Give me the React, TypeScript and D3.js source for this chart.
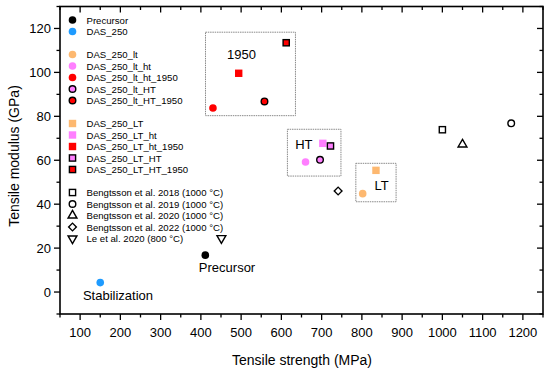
import React from "react";
import * as d3 from "d3";

// ---- data ----
const seriesNames = [
  "Precursor",
  "DAS_250",
  "DAS_250_lt",
  "DAS_250_lt_ht",
  "DAS_250_lt_ht_1950",
  "DAS_250_lt_HT",
  "DAS_250_lt_HT_1950",
  "DAS_250_LT",
  "DAS_250_LT_ht",
  "DAS_250_LT_ht_1950",
  "DAS_250_LT_HT",
  "DAS_250_LT_HT_1950",
  "Bengtsson et al. 2018 (1000 °C)",
  "Bengtsson et al. 2019 (1000 °C)",
  "Bengtsson et al. 2020 (1000 °C)",
  "Bengtsson et al. 2022 (1000 °C)",
  "Le et al. 2020 (800 °C)",
];
const strengthValues = [411, 150, 802, 660, 430, 696, 558, 835, 703, 494, 722, 612, 1000, 1171, 1050, 741, 451];
const modulusValues = [16.8, 4.3, 44.8, 59.2, 83.8, 60.2, 86.8, 55.4, 67.7, 99.6, 66.5, 113.5, 73.9, 76.8, 67.2, 46.0, 24.5];

const xTicks = [100, 200, 300, 400, 500, 600, 700, 800, 900, 1000, 1100, 1200];
const yTicks = [0, 20, 40, 60, 80, 100, 120];

// annotation boxes (data coordinates) and labels
const boxLabels = ["1950", "HT", "LT"];
const boxX0 = [411.5, 615, 785];
const boxX1 = [635, 748, 885];
const boxY0 = [80.3, 52.8, 41.1];
const boxY1 = [118.3, 74.1, 58.6];
const boxLabelX = [501, 656, 849];
const boxLabelY = [108.2, 67.4, 48.4];

const pointLabels = ["Precursor", "Stabilization"];
const pointLabelX = [465, 194];
const pointLabelY = [11.1, -1.7];

// ---- styles ----
const BLUE = "#1e9bff";
const ORANGE = "#fdb870";
const MAGENTA = "#ff7fff";
const RED = "#ff0000";
const styleOf: Record<string, { shape: string; fill: string; stroke: string }> = {
  Precursor: { shape: "circle", fill: "#000", stroke: "none" },
  DAS_250: { shape: "circle", fill: BLUE, stroke: "none" },
  DAS_250_lt: { shape: "circle", fill: ORANGE, stroke: "none" },
  DAS_250_lt_ht: { shape: "circle", fill: MAGENTA, stroke: "none" },
  DAS_250_lt_ht_1950: { shape: "circle", fill: RED, stroke: "none" },
  DAS_250_lt_HT: { shape: "circle", fill: MAGENTA, stroke: "#000" },
  DAS_250_lt_HT_1950: { shape: "circle", fill: RED, stroke: "#000" },
  DAS_250_LT: { shape: "square", fill: ORANGE, stroke: "none" },
  DAS_250_LT_ht: { shape: "square", fill: MAGENTA, stroke: "none" },
  DAS_250_LT_ht_1950: { shape: "square", fill: RED, stroke: "none" },
  DAS_250_LT_HT: { shape: "square", fill: MAGENTA, stroke: "#000" },
  DAS_250_LT_HT_1950: { shape: "square", fill: RED, stroke: "#000" },
  "Bengtsson et al. 2018 (1000 °C)": { shape: "square", fill: "#fff", stroke: "#000" },
  "Bengtsson et al. 2019 (1000 °C)": { shape: "circle", fill: "#fff", stroke: "#000" },
  "Bengtsson et al. 2020 (1000 °C)": { shape: "triangle", fill: "#fff", stroke: "#000" },
  "Bengtsson et al. 2022 (1000 °C)": { shape: "diamond", fill: "#fff", stroke: "#000" },
  "Le et al. 2020 (800 °C)": { shape: "triangleDown", fill: "#fff", stroke: "#000" },
};
// legend row index (gaps between groups)
const legendRows = [0, 1, 3, 4, 5, 6, 7, 9, 10, 11, 12, 13, 15, 16, 17, 18, 19];

const W = 550;
const H = 372;
const L = 60, R = 543, T = 6.5, B = 314;
const FONT = "'Liberation Sans', Arial, sans-serif";

function Marker({ shape, fill, stroke, cx, cy }: any) {
  const sw = stroke === "none" ? 0 : 1.4;
  if (shape === "circle") {
    const r = stroke === "none" ? 3.8 : 3.3;
    return <circle cx={cx} cy={cy} r={r} fill={fill} stroke={stroke} strokeWidth={sw} />;
  }
  if (shape === "square") {
    const s = stroke === "none" ? 7.4 : 6.2;
    return <rect x={cx - s / 2} y={cy - s / 2} width={s} height={s} fill={fill} stroke={stroke} strokeWidth={sw} />;
  }
  let sym: any = d3.symbolTriangle;
  let size = 34;
  let rot = 0;
  if (shape === "diamond") {
    sym = d3.symbolSquare;
    size = 30;
    rot = 45;
  } else if (shape === "triangleDown") {
    rot = 180;
  }
  const p = d3.symbol().type(sym).size(size)() || "";
  return (
    <path d={p} transform={`translate(${cx},${cy}) rotate(${rot})`} fill={fill} stroke={stroke} strokeWidth={sw} strokeLinejoin="miter" />
  );
}

export default function App() {
  const x = d3.scaleLinear().domain([50, 1250]).range([L, R]);
  const y = d3.scaleLinear().domain([-10, 130]).range([B, T]);
  const xMinor = d3.range(50, 1251, 50);
  const yMinor = d3.range(-10, 131, 10);

  return (
    <svg width={W} height={H} style={{ position: "absolute", left: 0, top: 0, background: "#fff" }} fontFamily={FONT}>
      <rect width={W} height={H} fill="#fff" />
      {/* ticks */}
      {xMinor.map((v) => {
        const major = xTicks.includes(v);
        const len = major ? 6 : 3.5;
        return (
          <g key={"xm" + v} stroke="#000" strokeWidth={1.3}>
            <line x1={x(v)} x2={x(v)} y1={B} y2={B + len} />
            <line x1={x(v)} x2={x(v)} y1={T} y2={T + len} />
          </g>
        );
      })}
      {yMinor.map((v) => {
        const major = yTicks.includes(v);
        const len = major ? 6 : 3.5;
        return (
          <g key={"ym" + v} stroke="#000" strokeWidth={1.3}>
            <line x1={L - len} x2={L} y1={y(v)} y2={y(v)} />
            <line x1={R - len} x2={R} y1={y(v)} y2={y(v)} />
          </g>
        );
      })}
      {/* frame */}
      <rect x={L} y={T} width={R - L} height={B - T} fill="none" stroke="#000" strokeWidth={1.6} />
      {/* tick labels */}
      {xTicks.map((v) => (
        <text key={"xl" + v} x={x(v)} y={337} fontSize={13} textAnchor="middle" fill="#000">
          {v}
        </text>
      ))}
      {yTicks.map((v) => (
        <text key={"yl" + v} x={51} y={y(v) + 4.6} fontSize={13} textAnchor="end" fill="#000">
          {v}
        </text>
      ))}
      {/* axis titles */}
      <text x={302} y={365} fontSize={14} textAnchor="middle" fill="#000">
        Tensile strength (MPa)
      </text>
      <text transform={`translate(18.5,${156}) rotate(-90)`} fontSize={14} textAnchor="middle" fill="#000">
        Tensile modulus (GPa)
      </text>
      {/* boxes */}
      {boxLabels.map((lab, i) => (
        <g key={"bx" + lab}>
          <rect
            x={x(boxX0[i])}
            y={y(boxY1[i])}
            width={x(boxX1[i]) - x(boxX0[i])}
            height={y(boxY0[i]) - y(boxY1[i])}
            fill="none"
            stroke="#8a8a8a"
            strokeWidth={1}
            strokeDasharray="1.5,0.8"
          />
          <text x={x(boxLabelX[i])} y={y(boxLabelY[i]) + 4.6} fontSize={13} textAnchor="middle" fill="#000">
            {lab}
          </text>
        </g>
      ))}
      {/* point labels */}
      {pointLabels.map((lab, i) => (
        <text key={"pl" + lab} x={x(pointLabelX[i])} y={y(pointLabelY[i]) + 4.6} fontSize={13} textAnchor="middle" fill="#000">
          {lab}
        </text>
      ))}
      {/* points */}
      {seriesNames.map((n, i) => {
        const s = styleOf[n];
        return <Marker key={"pt" + n} {...s} cx={x(strengthValues[i])} cy={y(modulusValues[i])} />;
      })}
      {/* legend */}
      {seriesNames.map((n, i) => {
        const s = styleOf[n];
        const ly = 20 + legendRows[i] * 11.5;
        return (
          <g key={"lg" + n}>
            <Marker {...s} cx={72.5} cy={ly} />
            <text x={86.5} y={ly + 3.5} fontSize={9.6} fill="#000">
              {n}
            </text>
          </g>
        );
      })}
    </svg>
  );
}
